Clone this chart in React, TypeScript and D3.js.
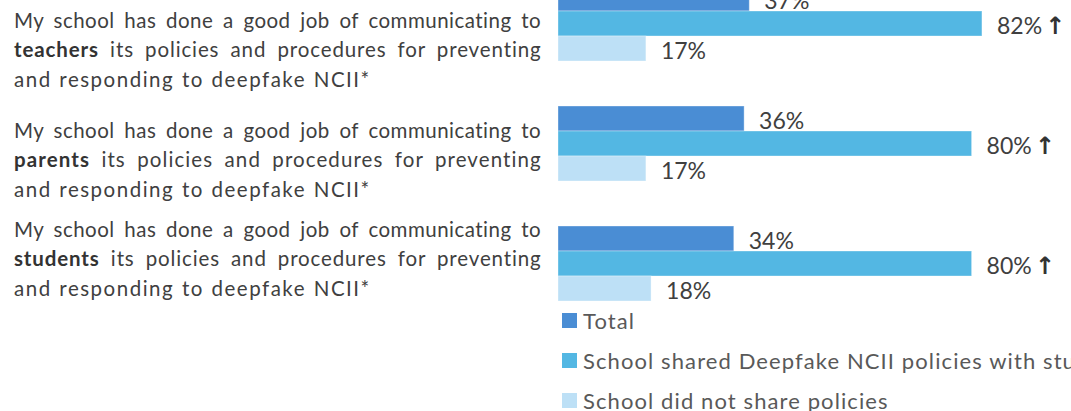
import React, { useEffect } from "react";
import * as d3 from "d3";

const categories = ["teachers", "parents", "students"];
const seriesNames = [
  "Total",
  "School shared Deepfake NCII policies with students",
  "School did not share policies",
];
const totalValues = [37, 36, 34];
const sharedValues = [82, 80, 80];
const notSharedValues = [17, 17, 18];
const significantUp = [true, true, true];
const labelPrefix = "My school has done a good job of communicating to";
const labelSuffix = "its policies and procedures for preventing";
const labelLast = "and responding to deepfake NCII*";

const COLORS = ["#4a8dd4", "#53b7e3", "#bde0f6"];
const W = 1071;
const H = 411;
const FONT = "Lato, 'Liberation Sans', sans-serif";
const LABEL_OFFSETS = [42, 32, 11]; // first baseline relative to band top
const LINE_H = 29.3;
const TEXT_LEFT = 14;
const TEXT_W = 527;
const LABEL_SIZE = 20.5;

export default function App() {
  useEffect(() => {
    document.body.style.margin = "0";
  }, []);

  const series = [totalValues, sharedValues, notSharedValues];

  const x = d3.scaleLinear().domain([0, 100]).range([558, 1075]);
  const y = d3
    .scaleBand<string>()
    .domain(categories)
    .range([-36.5, 323.5])
    .paddingInner(0.375)
    .paddingOuter(0.1875);
  const ySub = d3
    .scaleBand<string>()
    .domain(seriesNames)
    .range([0, y.bandwidth()])
    .padding(0);

  const common = {
    x: TEXT_LEFT,
    fontFamily: FONT,
    fontSize: LABEL_SIZE,
    fill: "#404040",
    style: { fontVariantLigatures: "none" } as React.CSSProperties,
  };

  return (
    <svg width={W} height={H} style={{ display: "block", background: "#fff" }}>
      {categories.map((cat, ci) => {
        const top = y(cat)!;
        const base = top + LABEL_OFFSETS[ci];
        return (
          <g key={cat}>
            <text {...common} y={base} textLength={TEXT_W} lengthAdjust="spacing" wordSpacing={4} letterSpacing={0.3}>
              {labelPrefix}
            </text>
            <text
              {...common}
              y={base + LINE_H}
              textLength={TEXT_W}
              lengthAdjust="spacing"
              wordSpacing={5}
              letterSpacing={0.3}
            >
              <tspan fontWeight="bold" fill="#333">
                {cat}
              </tspan>{" "}
              {labelSuffix}
            </text>
            <text {...common} y={base + 2 * LINE_H} letterSpacing={1.5} wordSpacing={1}>
              {labelLast}
            </text>
            {seriesNames.map((s, si) => {
              const v = series[si][ci];
              const by = top + ySub(s)!;
              const bh = ySub.bandwidth();
              const up = si === 1 && significantUp[ci];
              return (
                <g key={s}>
                  <rect
                    x={x(0)}
                    y={by}
                    width={x(v) - x(0)}
                    height={bh}
                    fill={COLORS[si]}
                    stroke="#ffffff"
                    strokeOpacity={0.35}
                    strokeWidth={1}
                  />
                  <text x={x(v) + 15} y={by + bh - 2} fontFamily={FONT} fontSize={23} fill="#404040">
                    {v}%
                    {up ? (
                      <tspan dx={3} fontFamily="'DejaVu Sans', sans-serif" fontWeight="bold" fontSize={24} fill="#333">
                        ↑
                      </tspan>
                    ) : null}
                  </text>
                </g>
              );
            })}
          </g>
        );
      })}
      {seriesNames.map((s, si) => (
        <g key={s} transform={`translate(562, ${313 + si * 40})`}>
          <rect width={15} height={15} fill={COLORS[si]} />
          <text x={21} y={16} fontFamily={FONT} fontSize={22} letterSpacing={1.1} fill="#595959">
            {s}
          </text>
        </g>
      ))}
    </svg>
  );
}
